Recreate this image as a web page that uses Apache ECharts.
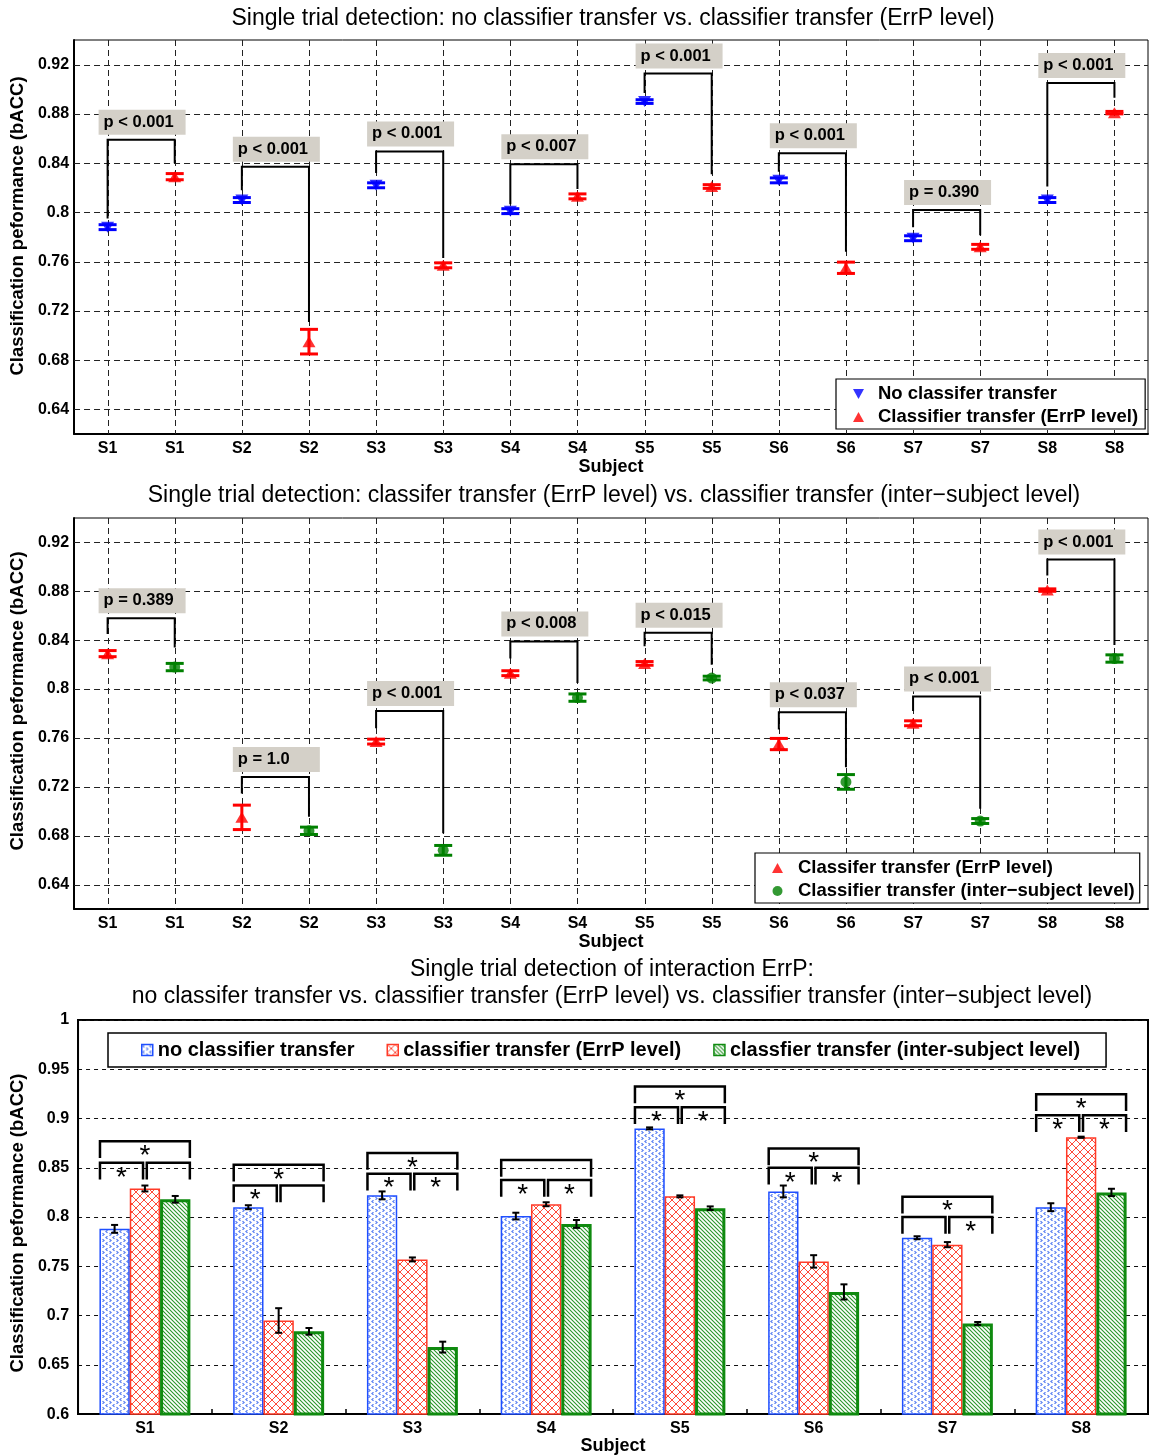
<!DOCTYPE html>
<html><head><meta charset="utf-8">
<script src="https://cdn.jsdelivr.net/npm/echarts@6/dist/echarts.min.js"></script>
<style>html,body{margin:0;padding:0;background:#fff}#c{width:1151px;height:1456px}</style>
</head><body><div id="c"></div>
<script>
// ---------------- DATA ----------------
const subjects = ['S1','S2','S3','S4','S5','S6','S7','S8'];
const pairCategories = subjects.flatMap(s => [s, s]);
const yTicksScatter = [0.64, 0.68, 0.72, 0.76, 0.80, 0.84, 0.88, 0.92];

const noTransfer   = [0.788, 0.810, 0.822, 0.801, 0.890, 0.826, 0.779, 0.810];
const errpLevel    = [0.829, 0.695, 0.757, 0.813, 0.821, 0.755, 0.772, 0.881];
const interSubject = [0.818, 0.684, 0.668, 0.793, 0.809, 0.724, 0.692, 0.825];

// error bars of the two scatter panels
const errNoScatter    = [0.002, 0.002, 0.002, 0.002, 0.0015, 0.002, 0.002, 0.002];
const errErrpScatter  = [0.0025, 0.010, 0.002, 0.002, 0.0015, 0.0046, 0.002, 0.001];
const errInterScatter = [0.003, 0.003, 0.004, 0.003, 0.0015, 0.006, 0.002, 0.003];
// error bars of the bar panel
const errNoBar    = [0.004, 0.002, 0.004, 0.0034, 0.001, 0.006, 0.0015, 0.004];
const errErrpBar  = [0.003, 0.0125, 0.002, 0.002, 0.001, 0.0063, 0.0026, 0.0006];
const errInterBar = [0.0034, 0.0034, 0.0055, 0.004, 0.0018, 0.0077, 0.0015, 0.0037];

// panel 1 brackets: line height, left leg end, right leg end, p text
const topBracketLine  = [0.859, 0.837, 0.8495, 0.839, 0.9127, 0.848, 0.802, 0.905];
const topBracketLeft  = [0.795, 0.818, 0.832, 0.8065, 0.897, 0.833, 0.788, 0.821];
const topBracketRight = [0.840, 0.711, 0.763, 0.819, 0.831, 0.768, 0.7815, 0.893];
const topPLabels = ['p < 0.001','p < 0.001','p < 0.001','p < 0.007','p < 0.001','p < 0.001','p = 0.390','p < 0.001'];

// panel 2 brackets
const midBracketLine  = [0.858, 0.728, 0.782, 0.839, 0.846, 0.781, 0.794, 0.906];
const midBracketLeft  = [0.845, 0.7146, 0.768, 0.825, 0.835, 0.767, 0.782, 0.893];
const midBracketRight = [0.834, 0.6955, 0.682, 0.805, 0.820, 0.736, 0.702, 0.836];
const midPLabels = ['p = 0.389','p = 1.0','p < 0.001','p < 0.008','p < 0.015','p < 0.037','p < 0.001','p < 0.001'];

// panel 3 significance brackets: top bracket height, pair bracket height, stars (pair A, pair B, top)
const barTopBracket  = [0.877, 0.853, 0.865, 0.858, 0.9324, 0.8697, 0.8206, 0.9246];
const barPairBracket = [0.855, 0.832, 0.844, 0.8375, 0.9115, 0.850, 0.800, 0.9033];
const starPairA = [1, 1, 1, 1, 1, 1, 0, 1];
const starPairB = [0, 0, 1, 1, 1, 1, 1, 1];
const starTop   = [1, 1, 1, 0, 1, 1, 1, 1];

// ---------------- STYLE ----------------
const FF = '"Liberation Sans", Arial, Helvetica, sans-serif';
const BLUE = '#0000ff', RED = '#ff0000', GREEN = '#008000';
const BAR_BLUE = '#1f4fff', BAR_RED = '#ff3b28', BAR_GREEN = '#0f8a0f';

function makePattern(kind) {
  const cv = document.createElement('canvas');
  const ctx = cv.getContext('2d');
  if (kind === 'dots') {
    cv.width = 7; cv.height = 6;
    ctx.fillStyle = '#fff'; ctx.fillRect(0, 0, 7, 6);
    ctx.strokeStyle = '#4d76f0'; ctx.lineWidth = 1.2;
    ctx.beginPath(); ctx.moveTo(2.5, 0.3); ctx.lineTo(1, 1.5); ctx.lineTo(2.5, 2.7); ctx.stroke();
    ctx.beginPath(); ctx.moveTo(4.5, 3.3); ctx.lineTo(6, 4.5); ctx.lineTo(4.5, 5.7); ctx.stroke();
  } else if (kind === 'cross') {
    cv.width = 8; cv.height = 8;
    ctx.fillStyle = '#fff'; ctx.fillRect(0, 0, 8, 8);
    ctx.strokeStyle = '#ff4a38'; ctx.lineWidth = 1;
    ctx.beginPath(); ctx.moveTo(-1, -1); ctx.lineTo(9, 9); ctx.stroke();
    ctx.beginPath(); ctx.moveTo(9, -1); ctx.lineTo(-1, 9); ctx.stroke();
  } else {
    cv.width = 4; cv.height = 4;
    ctx.fillStyle = '#fff'; ctx.fillRect(0, 0, 4, 4);
    ctx.strokeStyle = '#2a962a'; ctx.lineWidth = 1.1;
    ctx.beginPath(); ctx.moveTo(-1, -1); ctx.lineTo(5, 5); ctx.stroke();
    ctx.beginPath(); ctx.moveTo(-1, 3); ctx.lineTo(1, 5); ctx.stroke();
    ctx.beginPath(); ctx.moveTo(3, -1); ctx.lineTo(5, 1); ctx.stroke();
  }
  return { image: cv, repeat: 'repeat' };
}

// ---------------- RENDER HELPERS ----------------
function hGrid(gi) {
  return {
    type: 'custom', xAxisIndex: gi, yAxisIndex: gi, z: 1, silent: true,
    data: yTicksScatter.map(v => [0, v]),
    renderItem: (params, api) => {
      const cs = params.coordSys;
      const y = Math.round(api.coord([0, api.value(1)])[1]) + 0.5;
      return { type: 'line', shape: { x1: cs.x, y1: y, x2: cs.x + cs.width, y2: y },
        style: { stroke: '#222', lineWidth: 1, lineDash: [6, 4] } };
    }
  };
}
function vGrid(gi) {
  return {
    type: 'custom', xAxisIndex: gi, yAxisIndex: gi, z: 1, silent: true,
    data: pairCategories.map((c, i) => [i, 0.8]),
    renderItem: (params, api) => {
      const cs = params.coordSys;
      const x = Math.round(api.coord([api.value(0), 0.8])[0]) + 0.5;
      return { type: 'line', shape: { x1: x, y1: cs.y, x2: x, y2: cs.y + cs.height },
        style: { stroke: '#222', lineWidth: 1, lineDash: [6, 4] } };
    }
  };
}
function scatterErr(gi, values, errs, offset, color) {
  return {
    type: 'custom', xAxisIndex: gi, yAxisIndex: gi, z: 3, silent: true,
    data: values.map((v, k) => [2 * k + offset, v, errs[k]]),
    renderItem: (params, api) => {
      const x = api.value(0), v = api.value(1), e = api.value(2);
      const hi = api.coord([x, v + e]), lo = api.coord([x, v - e]);
      const w = 9;
      const st = { stroke: color, lineWidth: 3 };
      return { type: 'group', children: [
        { type: 'line', shape: { x1: hi[0], y1: hi[1], x2: lo[0], y2: lo[1] }, style: st },
        { type: 'line', shape: { x1: hi[0] - w, y1: hi[1], x2: hi[0] + w, y2: hi[1] }, style: st },
        { type: 'line', shape: { x1: lo[0] - w, y1: lo[1], x2: lo[0] + w, y2: lo[1] }, style: st }
      ] };
    }
  };
}
function brackets(gi, lines, lefts, rights) {
  return {
    type: 'custom', xAxisIndex: gi, yAxisIndex: gi, z: 4, silent: true,
    data: lines.map((l, k) => [2 * k, l, lefts[k], rights[k]]),
    renderItem: (params, api) => {
      const i = api.value(0);
      const a = api.coord([i, api.value(2)]), b = api.coord([i, api.value(1)]);
      const c = api.coord([i + 1, api.value(1)]), d = api.coord([i + 1, api.value(3)]);
      return { type: 'polyline', shape: { points: [a, b, c, d] },
        style: { stroke: '#000', lineWidth: 2, fill: null } };
    }
  };
}
function pLabels(gi, lines, texts) {
  return {
    type: 'custom', xAxisIndex: gi, yAxisIndex: gi, z: 5, silent: true,
    data: lines.map((l, k) => [2 * k, l, k]),
    renderItem: (params, api) => {
      const p = api.coord([api.value(0), api.value(1)]);
      const txt = texts[api.value(2)];
      return { type: 'group', children: [
        { type: 'rect', shape: { x: p[0] - 9, y: p[1] - 30, width: 87, height: 25 },
          style: { fill: '#d4d0c8', stroke: null } },
        { type: 'text', style: { text: txt, x: p[0] - 4, y: p[1] - 17.5, align: 'left', verticalAlign: 'middle',
          fontFamily: FF, fontWeight: 'bold', fontSize: 16.5, fill: '#000' } }
      ] };
    }
  };
}
function barErr(values, errs, s) {
  return {
    type: 'custom', xAxisIndex: 2, yAxisIndex: 2, z: 6, silent: true,
    data: values.map((v, k) => [k, v, errs[k]]),
    renderItem: (params, api) => {
      const band = api.size([1, 0])[0];
      const bw = band * 0.68 / 3;
      const k = api.value(0), v = api.value(1), e = api.value(2);
      const x = api.coord([k, v])[0] + (s - 1) * bw;
      const yh = api.coord([k, v + e])[1], yl = api.coord([k, v - e])[1];
      const w = 3.5, st = { stroke: '#000', lineWidth: 2 };
      return { type: 'group', children: [
        { type: 'line', shape: { x1: x, y1: yh, x2: x, y2: yl }, style: st },
        { type: 'line', shape: { x1: x - w, y1: yh, x2: x + w, y2: yh }, style: st },
        { type: 'line', shape: { x1: x - w, y1: yl, x2: x + w, y2: yl }, style: st }
      ] };
    }
  };
}
const barBrackets = {
  type: 'custom', xAxisIndex: 2, yAxisIndex: 2, z: 7, silent: true,
  data: subjects.map((s, k) => [k, barTopBracket[k], barPairBracket[k], starPairA[k], starPairB[k], starTop[k]]),
  renderItem: (params, api) => {
    const band = api.size([1, 0])[0];
    const k = api.value(0), top = api.value(1), pair = api.value(2);
    const cx = api.coord([k, 0.8])[0];
    const outer = band * 0.336, inner = band * 0.014, leg = 0.017;
    const yT = api.coord([k, top])[1], yTL = api.coord([k, top - leg])[1];
    const yP = api.coord([k, pair])[1], yPL = api.coord([k, pair - leg])[1];
    const st = { stroke: '#000', lineWidth: 2.5, fill: null };
    const ch = [
      { type: 'polyline', shape: { points: [[cx - outer, yTL], [cx - outer, yT], [cx + outer, yT], [cx + outer, yTL]] }, style: st },
      { type: 'polyline', shape: { points: [[cx - outer, yPL], [cx - outer, yP], [cx - inner, yP], [cx - inner, yPL]] }, style: st },
      { type: 'polyline', shape: { points: [[cx + inner, yPL], [cx + inner, yP], [cx + outer, yP], [cx + outer, yPL]] }, style: st }
    ];
    const star = (x, y) => ({ type: 'text', style: { text: '*', x: x, y: y + 1, align: 'center', verticalAlign: 'top',
      fontSize: 28, fontFamily: FF, fill: '#000' } });
    const mid = (outer + inner) / 2;
    if (api.value(3)) ch.push(star(cx - mid, yP));
    if (api.value(4)) ch.push(star(cx + mid, yP));
    if (api.value(5)) ch.push(star(cx, yT));
    return { type: 'group', children: ch };
  }
};

// ---------------- AXES ----------------
const yName = 'Classification peformance (bACC)';
function scatterY(gi, pad) {
  return {
    gridIndex: gi, type: 'value', min: 0.62, max: 0.94, interval: 0.02,
    axisLine: { show: true, lineStyle: { color: '#000', width: 2 } },
    axisTick: { show: false }, splitLine: { show: false },
    axisLabel: { color: '#000', fontFamily: FF, fontWeight: 'bold', fontSize: 16, margin: 5,
      formatter: v => (Math.round(v * 100) % 4 === 0 ? String(+v.toFixed(2)) : '') },
    name: yName, nameLocation: 'middle', nameGap: 44,
    nameTextStyle: { color: '#000', fontFamily: FF, fontWeight: 'bold', fontSize: 18.5, padding: pad }
  };
}
function scatterX(gi) {
  return {
    gridIndex: gi, type: 'category', data: pairCategories, boundaryGap: true,
    axisLine: { show: true, lineStyle: { color: '#000', width: 2 } },
    axisTick: { show: false }, splitLine: { show: false },
    axisLabel: { interval: 0, color: '#000', fontFamily: FF, fontWeight: 'bold', fontSize: 16, margin: 7 },
    name: 'Subject', nameLocation: 'middle', nameGap: 23,
    nameTextStyle: { color: '#000', fontFamily: FF, fontWeight: 'bold', fontSize: 18 }
  };
}

const legendText = { color: '#000', fontFamily: FF, fontWeight: 'bold', fontSize: 18.5, lineHeight: 20 };
const titleStyle = { fontFamily: FF, fontWeight: 'normal', fontSize: 23, lineHeight: 27, color: '#000' };

const option = {
  animation: false,
  backgroundColor: '#fff',
  title: [
    { text: 'Single trial detection: no classifier transfer vs. classifier transfer (ErrP level)',
      left: 608, top: 0, textAlign: 'center', textStyle: titleStyle },
    { text: 'Single trial detection: classifer transfer (ErrP level) vs. classifier transfer (inter\u2212subject level)',
      left: 609, top: 477, textAlign: 'center', textStyle: titleStyle },
    { text: 'Single trial detection of interaction ErrP:\nno classifer transfer vs. classifier transfer (ErrP level) vs. classifier transfer (inter\u2212subject level)',
      left: 607, top: 951, textAlign: 'center', textStyle: titleStyle }
  ],
  legend: [
    { orient: 'vertical', left: 836, top: 379, padding: [5, 7, 2, 17], itemGap: 3,
      itemWidth: 11, itemHeight: 10, borderColor: '#000', borderWidth: 1.2, backgroundColor: '#fff',
      selectedMode: false, textStyle: Object.assign({ padding: [0, 0, 0, 9] }, legendText),
      data: [ { name: 'No classifer transfer', icon: 'path://M0,0L10,0L5,9Z' },
              { name: 'Classifier transfer (ErrP level)', icon: 'triangle' } ] },
    { orient: 'vertical', left: 755, top: 853, padding: [5, 5, 2, 17], itemGap: 3,
      itemWidth: 11, itemHeight: 10, borderColor: '#000', borderWidth: 1.2, backgroundColor: '#fff',
      selectedMode: false, textStyle: Object.assign({ padding: [0, 0, 0, 10] }, legendText),
      data: [ { name: 'Classifer transfer (ErrP level)', icon: 'triangle' },
              { name: 'Classifier transfer (inter\u2212subject level)', icon: 'circle' } ] },
    { orient: 'horizontal', left: 108, top: 1033, padding: [6, 26, 6, 33], itemGap: 32,
      itemWidth: 11, itemHeight: 11, borderColor: '#000', borderWidth: 1.5, backgroundColor: '#fff',
      selectedMode: false, itemStyle: { borderWidth: 1.5 },
      textStyle: { color: '#000', fontFamily: FF, fontWeight: 'bold', fontSize: 20, lineHeight: 22 },
      data: [ { name: 'no classifier transfer', icon: 'rect' },
              { name: 'classifier transfer (ErrP level)', icon: 'rect' },
              { name: 'classfier transfer (inter-subject level)', icon: 'rect' } ] }
  ],
  grid: [
    { left: 71, top: 40, width: 1077, height: 394, show: true, borderColor: '#000', borderWidth: 1, backgroundColor: 'transparent' },
    { left: 71, top: 518, width: 1077, height: 391, show: true, borderColor: '#000', borderWidth: 1, backgroundColor: 'transparent' },
    { left: 75, top: 1020, width: 1073, height: 403.5, show: true, borderColor: '#000', borderWidth: 2, backgroundColor: 'transparent' }
  ],
  xAxis: [
    scatterX(0), scatterX(1),
    { gridIndex: 2, type: 'category', data: subjects, boundaryGap: true,
      axisLine: { show: true, lineStyle: { color: '#000', width: 2 } },
      axisTick: { show: true, inside: true, length: 5, lineStyle: { color: '#000', width: 1.5 } },
      splitLine: { show: false },
      axisLabel: { interval: 0, color: '#000', fontFamily: FF, fontWeight: 'bold', fontSize: 16, margin: 6 },
      name: 'Subject', nameLocation: 'middle', nameGap: 15,
      nameTextStyle: { color: '#000', fontFamily: FF, fontWeight: 'bold', fontSize: 18 } }
  ],
  yAxis: [
    scatterY(0, [0, 0, 0, 22]), scatterY(1, [0, 0, 0, 25]),
    { gridIndex: 2, type: 'value', min: 0.6, max: 1, interval: 0.05,
      axisLine: { show: true, lineStyle: { color: '#000', width: 2 } },
      axisTick: { show: false },
      splitLine: { show: true, lineStyle: { color: '#111', width: 1, type: [4, 4] } },
      axisLabel: { color: '#000', fontFamily: FF, fontWeight: 'bold', fontSize: 16, margin: 9,
        formatter: v => String(+v.toFixed(2)) },
      name: yName, nameLocation: 'middle', nameGap: 50,
      nameTextStyle: { color: '#000', fontFamily: FF, fontWeight: 'bold', fontSize: 18.5, padding: [0, 12, 0, 0] } }
  ],
  series: [
    hGrid(0), vGrid(0), hGrid(1), vGrid(1),
    scatterErr(0, noTransfer, errNoScatter, 0, BLUE),
    scatterErr(0, errpLevel, errErrpScatter, 1, RED),
    { name: 'No classifer transfer', type: 'scatter', xAxisIndex: 0, yAxisIndex: 0, z: 3,
      symbol: 'triangle', symbolRotate: 180, symbolSize: [13, 11], itemStyle: { color: BLUE },
      data: noTransfer.map((v, k) => [2 * k, v]) },
    { name: 'Classifier transfer (ErrP level)', type: 'scatter', xAxisIndex: 0, yAxisIndex: 0, z: 3,
      symbol: 'triangle', symbolSize: [13, 11], itemStyle: { color: RED },
      data: errpLevel.map((v, k) => [2 * k + 1, v]) },
    brackets(0, topBracketLine, topBracketLeft, topBracketRight),
    pLabels(0, topBracketLine, topPLabels),

    scatterErr(1, errpLevel, errErrpScatter, 0, RED),
    scatterErr(1, interSubject, errInterScatter, 1, GREEN),
    { name: 'Classifer transfer (ErrP level)', type: 'scatter', xAxisIndex: 1, yAxisIndex: 1, z: 3,
      symbol: 'triangle', symbolSize: [13, 11], itemStyle: { color: RED },
      data: errpLevel.map((v, k) => [2 * k, v]) },
    { name: 'Classifier transfer (inter\u2212subject level)', type: 'scatter', xAxisIndex: 1, yAxisIndex: 1, z: 3,
      symbol: 'circle', symbolSize: 11, itemStyle: { color: GREEN },
      data: interSubject.map((v, k) => [2 * k + 1, v]) },
    brackets(1, midBracketLine, midBracketLeft, midBracketRight),
    pLabels(1, midBracketLine, midPLabels),

    { name: 'no classifier transfer', type: 'bar', xAxisIndex: 2, yAxisIndex: 2, z: 3,
      barCategoryGap: '32%', barGap: '0%',
      itemStyle: { color: makePattern('dots'), borderColor: BAR_BLUE, borderWidth: 1.5 },
      data: noTransfer },
    { name: 'classifier transfer (ErrP level)', type: 'bar', xAxisIndex: 2, yAxisIndex: 2, z: 3,
      barCategoryGap: '32%', barGap: '0%',
      itemStyle: { color: makePattern('cross'), borderColor: BAR_RED, borderWidth: 1.5 },
      data: errpLevel },
    { name: 'classfier transfer (inter-subject level)', type: 'bar', xAxisIndex: 2, yAxisIndex: 2, z: 3,
      barCategoryGap: '32%', barGap: '0%',
      itemStyle: { color: makePattern('lines'), borderColor: BAR_GREEN, borderWidth: 3 },
      data: interSubject },
    barErr(noTransfer, errNoBar, 0),
    barErr(errpLevel, errErrpBar, 1),
    barErr(interSubject, errInterBar, 2),
    barBrackets
  ]
};

const chart = echarts.init(document.getElementById('c'), null, { renderer: 'canvas' });
chart.setOption(option);
</script>
</body></html>
